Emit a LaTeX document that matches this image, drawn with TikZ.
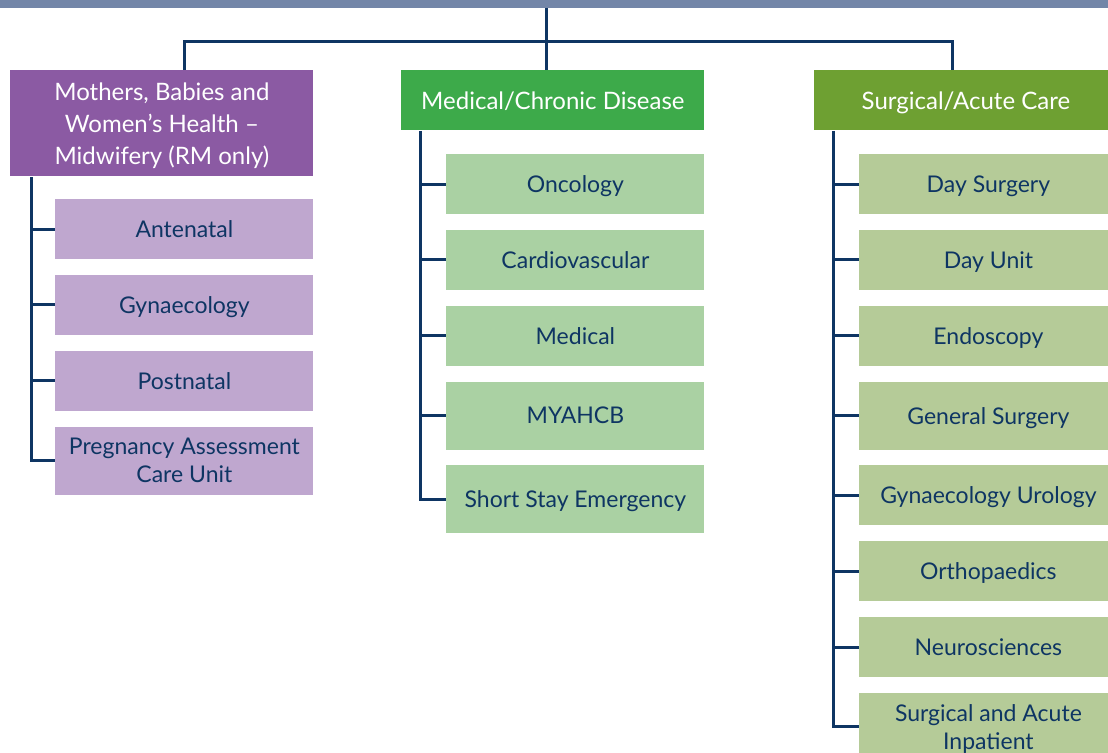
\documentclass[tikz,border=0pt]{standalone}
\usepackage{fontspec}
\setmainfont{Lato}
\usetikzlibrary{positioning}
\definecolor{bandgrey}{HTML}{7386A8}
\definecolor{linkblue}{HTML}{0E3563}
\definecolor{mbwhead}{HTML}{8B5AA3}
\definecolor{mbwunit}{HTML}{BFA7CF}
\definecolor{medhead}{HTML}{3DAA4A}
\definecolor{medunit}{HTML}{AAD1A3}
\definecolor{sachead}{HTML}{6EA032}
\definecolor{sacunit}{HTML}{B5CB98}
\tikzset{
  link/.style={draw=linkblue, line width=1.5pt},
  head/.style={fill=#1, text=white, font=\fontsize{12}{16}\selectfont, text depth=0pt,
    minimum width=151.5pt, minimum height=30pt, inner sep=0pt, align=center, anchor=north west},
  unit/.style={fill=#1, text=linkblue, font=\fontsize{11.5}{14}\selectfont, text depth=0pt,
    minimum width=129pt, minimum height=30pt, inner sep=0pt, align=center},
  tall/.style={minimum height=34pt},
}

\begin{document}
\begin{tikzpicture}[x=0.5pt, y=-0.5pt, node distance=7.5pt]
  \useasboundingbox (0,0) rectangle (1108,753);
  \fill[bandgrey] (0,0) rectangle (1108,8);
  \coordinate (root) at (546,8);
  \coordinate (bus) at (546,42);

  \node[head=mbwhead, minimum height=53pt] (mbw) at (10,70)
    {Mothers, Babies and\\Women's Health --\\Midwifery (RM only)};
  \node[head=medhead] (med) at (401,70) {Medical/Chronic Disease};
  \node[head=sachead] (sac) at (814,70) {Surgical/Acute Care};

  \draw[link] (root) -- (root |- med.north);
  \draw[link] ([xshift=11.25pt]mbw.north) |- (bus) -| ([xshift=-6.75pt]sac.north);

  \node[unit=mbwunit, below left=11pt and 0pt of mbw.south east] (ante) {Antenatal};
  \node[unit=mbwunit, below=of ante] (gyna) {Gynaecology};
  \node[unit=mbwunit, below=of gyna] (post) {Postnatal};
  \node[unit=mbwunit, tall, below=of post] (pacu) {Pregnancy Assessment\\Care Unit};

  \node[unit=medunit, below left=11.5pt and 0pt of med.south east] (onco) {Oncology};
  \node[unit=medunit, below=of onco] (card) {Cardiovascular};
  \node[unit=medunit, below=of card] (medi) {Medical};
  \node[unit=medunit, tall, below=of medi] (myah) {MYAHCB};
  \node[unit=medunit, tall, below=of myah] (sse) {Short Stay Emergency};

  \node[unit=sacunit, below left=11.5pt and 0pt of sac.south east] (days) {Day Surgery};
  \node[unit=sacunit, below=of days] (dayu) {Day Unit};
  \node[unit=sacunit, below=of dayu] (endo) {Endoscopy};
  \node[unit=sacunit, tall, below=of endo] (gens) {General Surgery};
  \node[unit=sacunit, below=of gens] (gynu) {Gynaecology Urology};
  \node[unit=sacunit, below=of gynu] (orth) {Orthopaedics};
  \node[unit=sacunit, below=of orth] (neur) {Neurosciences};
  \node[unit=sacunit, tall, below=of neur] (sai) {Surgical and Acute\\Inpatient};

  \coordinate (t1) at ([xshift=10.5pt]mbw.south west);
  \coordinate (t2) at ([xshift=9.5pt]med.south west);
  \coordinate (t3) at ([xshift=9.5pt]sac.south west);
  \draw[link] (t1) |- (pacu.west);
  \draw[link] (t2) |- (sse.west);
  \draw[link] (t3) |- (sai.west);
  \foreach \n in {ante,gyna,post}
    \draw[link] (\n.west) -- (\n.west -| t1);
  \foreach \n in {onco,card,medi,myah}
    \draw[link] (\n.west) -- (\n.west -| t2);
  \foreach \n in {days,dayu,endo,gens,gynu,orth,neur}
    \draw[link] (\n.west) -- (\n.west -| t3);
\end{tikzpicture}
\end{document}
